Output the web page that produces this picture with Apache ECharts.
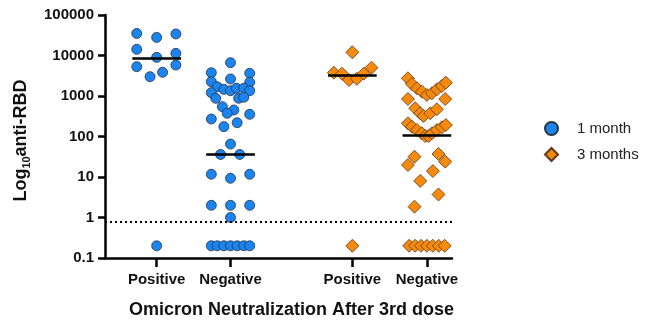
<!DOCTYPE html>
<html>
<head>
<meta charset="utf-8">
<script src="https://cdn.jsdelivr.net/npm/echarts@6/dist/echarts.min.js"></script>
<style>html,body{margin:0;padding:0;background:#fff}#chart{width:648px;height:325px}</style>
</head>
<body>
<div id="chart"></div>
<script>
// ---- data ----
const categories = ['Positive', 'Negative', 'Positive', 'Negative'];
const seriesNames = ['1 month', '3 months'];
const yTickValues = [0.1, 1, 10, 100, 1000, 10000, 100000];
const yTickLabels = ['0.1', '1', '10', '100', '1000', '10000', '100000'];
const cutoff = 0.8;
const medians = [8600, 36, 3300, 105];

// 1 month, Positive
const m1PosValues = [35000, 28000, 34000, 14200, 9000, 11300, 5300, 3000, 3850, 5800, 0.2];
const m1PosJitter = [-0.27, 0, 0.26, -0.27, 0, 0.26, -0.27, -0.09, 0.08, 0.26, 0];
// 1 month, Negative
const m1NegValues = [6640, 3760, 3630, 2630, 2250, 2180, 1700, 1460, 1350, 1550, 1550, 1350, 1210,
  877, 877, 929, 544, 451, 374, 353, 270, 219, 175, 65, 36, 36, 11.7, 9.3, 11.7, 2, 2, 2, 1,
  0.2, 0.2, 0.2, 0.2, 0.2, 0.2, 0.2];
const m1NegJitter = [0, -0.26, 0.26, 0, -0.26, 0.26, -0.18, -0.09, 0, 0.08, 0.18, 0.26, -0.26,
  -0.2, 0.11, 0.18, -0.11, 0.045, -0.045, 0.26, -0.26, 0.09, -0.09, 0, -0.135, 0.125, -0.26, 0, 0.26, -0.26, 0, 0.26, 0,
  -0.26, -0.18, -0.09, 0, 0.09, 0.18, 0.26];
// 3 months, Positive
const m3PosValues = [12000, 3760, 3560, 2480, 2660, 3560, 5000, 0.2];
const m3PosJitter = [0, -0.25, -0.14, -0.045, 0.06, 0.155, 0.26, 0];
// 3 months, Negative
const m3NegValues = [2740, 1980, 1550, 1280, 1060, 1170, 1460, 1770, 2130,
  843, 843, 497, 374, 321, 374, 470,
  212, 175, 145, 120, 103, 103, 120, 145, 169, 192,
  31.7, 19.8, 37, 23.9, 14, 8, 3.7, 1.85,
  0.2, 0.2, 0.2, 0.2, 0.2, 0.2, 0.2];
const m3NegJitter = [-0.257, -0.203, -0.135, -0.068, 0, 0.068, 0.135, 0.203, 0.257,
  -0.257, 0.248, -0.158, -0.09, -0.046, 0.045, 0.135,
  -0.257, -0.203, -0.135, -0.068, -0.023, 0.023, 0.068, 0.135, 0.203, 0.257,
  -0.168, -0.257, 0.157, 0.248, 0.081, -0.09, 0.157, -0.168,
  -0.24, -0.16, -0.08, 0, 0.08, 0.16, 0.24];

// ---- layout (not data) ----
const groupPos = [1, 2, 3.65, 4.66];
const medianHalf = 0.33;
const FONT = '"Liberation Sans", Arial, Helvetica, sans-serif';

function pts(center, jit, vals) {
  return vals.map((v, i) => [center + jit[i], v]);
}
function medianLine(gi) {
  return [{ coord: [groupPos[gi] - medianHalf, medians[gi]] }, { coord: [groupPos[gi] + medianHalf, medians[gi]] }];
}

const chart = echarts.init(document.getElementById('chart'), null, { renderer: 'canvas' });
chart.setOption({
  animation: false,
  backgroundColor: '#fff',
  grid: { left: 105, right: 196, top: 15, bottom: 67, containLabel: false },
  legend: {
    orient: 'vertical', left: 539, top: 116,
    itemWidth: 13, itemHeight: 13, itemGap: 11,
    textStyle: { fontFamily: FONT, fontSize: 15, color: '#222', padding: [0, 0, 0, 14] },
    data: [{ name: seriesNames[0], icon: 'circle' }, { name: seriesNames[1], icon: 'diamond' }]
  },
  xAxis: {
    type: 'value', min: 0.3, max: 5.0,
    splitLine: { show: false },
    axisLine: { show: true, onZero: false, lineStyle: { color: '#000', width: 2.5 } },
    axisTick: { show: true, length: 9, lineStyle: { color: '#000', width: 2.5 }, customValues: groupPos },
    axisLabel: {
      customValues: groupPos, margin: 14,
      fontFamily: FONT, fontWeight: 'bold', fontSize: 15, color: '#111',
      formatter: (v) => { const i = groupPos.findIndex(p => Math.abs(p - v) < 1e-6); return i >= 0 ? categories[i] : ''; }
    },
    name: 'Omicron Neutralization After 3rd dose',
    nameLocation: 'middle', nameGap: 43,
    nameTextStyle: { fontFamily: FONT, fontWeight: 'bold', fontSize: 18, color: '#111', padding: [0, 0, 0, 26] }
  },
  yAxis: {
    type: 'log', logBase: 10, min: 0.1, max: 100000,
    splitLine: { show: false },
    axisLine: { show: true, onZero: false, lineStyle: { color: '#000', width: 2.5 } },
    axisTick: { show: true, length: 7, lineStyle: { color: '#000', width: 2.5 }, customValues: yTickValues },
    axisLabel: {
      customValues: yTickValues, margin: 11,
      fontFamily: FONT, fontWeight: 'bold', fontSize: 15, color: '#111',
      formatter: (v) => { const i = Math.round(Math.log10(v)) + 1; return yTickLabels[i] !== undefined ? yTickLabels[i] : ''; }
    },
    name: '{a|Log}{s|10}{a|anti-RBD}',
    nameLocation: 'middle', nameGap: 73, nameRotate: 90,
    nameTextStyle: {
      padding: [0, 8, 0, 0],
      rich: {
        a: { fontFamily: FONT, fontWeight: 'bold', fontSize: 18, color: '#111' },
        s: { fontFamily: FONT, fontWeight: 'bold', fontSize: 11, color: '#111', verticalAlign: 'bottom', padding: [10, 0, 0, 0] }
      }
    }
  },
  series: [
    {
      name: seriesNames[0], type: 'scatter', symbol: 'circle', symbolSize: 10,
      itemStyle: { color: '#1a84f0', borderColor: '#2a3340', borderWidth: 0.8, opacity: 1 },
      data: pts(groupPos[0], m1PosJitter, m1PosValues).concat(pts(groupPos[1], m1NegJitter, m1NegValues)),
      markLine: {
        silent: true, symbol: 'none', label: { show: false }, animation: false,
        lineStyle: { color: '#000', width: 2.5, type: 'solid' },
        data: [medianLine(0), medianLine(1),
          { yAxis: cutoff, lineStyle: { color: '#000', width: 2, type: [2, 3] } }]
      },
      z: 3
    },
    {
      name: seriesNames[1], type: 'scatter', symbol: 'diamond', symbolSize: 13,
      itemStyle: { color: '#f7890c', borderColor: '#5a3a1a', borderWidth: 0.8, opacity: 1 },
      data: pts(groupPos[2], m3PosJitter, m3PosValues).concat(pts(groupPos[3], m3NegJitter, m3NegValues)),
      markLine: {
        silent: true, symbol: 'none', label: { show: false }, animation: false,
        lineStyle: { color: '#000', width: 2.5, type: 'solid' },
        data: [medianLine(2), medianLine(3)]
      },
      z: 3
    }
  ]
});
</script>
</body>
</html>
